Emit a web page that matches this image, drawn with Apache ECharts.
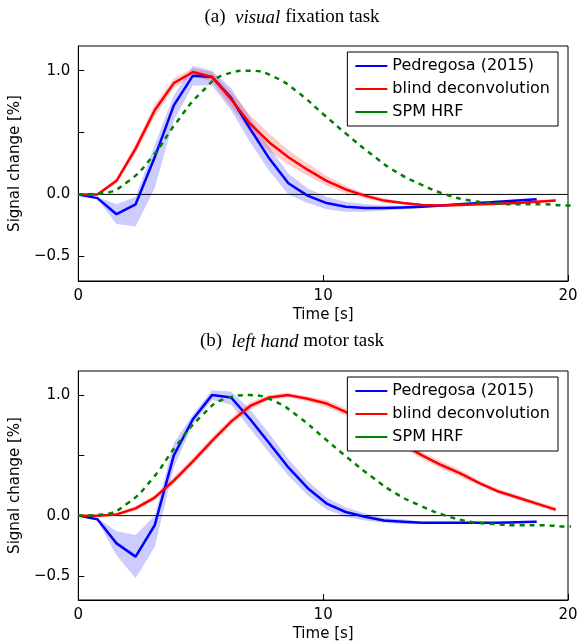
<!DOCTYPE html>
<html><head><meta charset="utf-8">
<script src="https://cdn.jsdelivr.net/npm/echarts@6/dist/echarts.min.js"></script>
<style>html,body{margin:0;padding:0;background:#fff}#main{width:584px;height:643px}</style>
</head><body><div id="main"></div>
<script>
// time grid of the estimated curves (s)
var step = 0.78;
var sptT = [0,1,2,3,4,5,6,7,8,9,10,11,12,13,14,15,16,17,18,19,20,21];
var spmHrf = [0,0.01,0.1,0.3,0.58,0.82,0.97,1.0,0.95,0.82,0.65,0.48,0.32,0.18,0.08,0.0,-0.05,-0.07,-0.08,-0.08,-0.09,-0.09];

// (a) visual
var blueA = [0,-0.03,-0.16,-0.08,0.3,0.72,0.96,0.95,0.78,0.53,0.29,0.09,-0.01,-0.07,-0.1,-0.11,-0.11,-0.105,-0.1,-0.09,-0.08,-0.07,-0.06,-0.05,-0.04];
var blueALo = [0,-0.04,-0.24,-0.26,0.05,0.6,0.88,0.88,0.68,0.42,0.19,0.0,-0.07,-0.12,-0.14,-0.14,-0.13,-0.12,-0.11,-0.1,-0.09,-0.08,-0.07,-0.06,-0.05];
var blueAHi = [0,-0.02,-0.08,-0.02,0.4,0.8,1.04,1.0,0.86,0.62,0.38,0.17,0.05,-0.02,-0.06,-0.08,-0.09,-0.09,-0.09,-0.08,-0.07,-0.06,-0.05,-0.04,-0.03];
var redA = [0,0.0,0.11,0.37,0.68,0.9,0.99,0.95,0.77,0.57,0.42,0.3,0.2,0.11,0.04,-0.01,-0.05,-0.07,-0.085,-0.09,-0.085,-0.08,-0.075,-0.07,-0.06,-0.05];
var redAHalf = [0,0.01,0.02,0.04,0.05,0.04,0.03,0.04,0.06,0.07,0.07,0.06,0.05,0.04,0.03,0.02,0.02,0.01,0.01,0.01,0.01,0.01,0.01,0.01,0.01,0.01];

// (b) left hand
var blueB = [0,-0.03,-0.23,-0.34,-0.08,0.5,0.8,1.0,0.98,0.8,0.6,0.4,0.23,0.1,0.03,-0.01,-0.04,-0.05,-0.06,-0.06,-0.06,-0.06,-0.06,-0.055,-0.05];
var blueBLo = [0,-0.04,-0.33,-0.52,-0.26,0.4,0.76,0.96,0.92,0.72,0.52,0.33,0.17,0.05,-0.01,-0.04,-0.06,-0.07,-0.07,-0.07,-0.07,-0.07,-0.07,-0.065,-0.06];
var blueBHi = [0,-0.02,-0.13,-0.16,0.0,0.6,0.84,1.04,1.03,0.88,0.68,0.47,0.29,0.15,0.07,0.02,-0.02,-0.03,-0.05,-0.05,-0.05,-0.05,-0.05,-0.045,-0.04];
var redB = [0,0,0.01,0.06,0.15,0.29,0.45,0.62,0.78,0.91,0.98,1.0,0.97,0.93,0.86,0.77,0.68,0.59,0.5,0.42,0.35,0.27,0.2,0.15,0.1,0.05];
var redBHalf = [0,0,0.01,0.02,0.02,0.03,0.03,0.03,0.03,0.03,0.02,0.02,0.02,0.03,0.03,0.03,0.03,0.03,0.03,0.03,0.03,0.02,0.02,0.02,0.02,0.02];

function pairs(v){ return v.map(function(y,i){ return [+(i*step).toFixed(2), y]; }); }
function bandSeries(idx, lo, hi, color){
  return {
    type:'custom', xAxisIndex:idx, yAxisIndex:idx, silent:true, z:1, clip:true,
    data: lo.map(function(l,i){ return [+(i*step).toFixed(2), l, hi[i]]; }),
    renderItem:function(params, api){
      if (params.dataIndex !== 0) return;
      var pts = [], i;
      for (i=0;i<lo.length;i++) pts.push(api.coord([i*step, hi[i]]));
      for (i=lo.length-1;i>=0;i--) pts.push(api.coord([i*step, lo[i]]));
      return {type:'polygon', shape:{points:pts}, style:{fill:color}};
    }
  };
}
function halfBand(v, h, sign){ return v.map(function(y,i){ return y + sign*h[i]; }); }

var tickFont = {fontFamily:'DejaVu Sans', fontSize:15, color:'#000'};
function xAx(idx){
  return {type:'value', gridIndex:idx, min:0, max:20, interval:10, name:'Time [s]', nameLocation:'middle', nameGap:27,
    nameTextStyle:{fontFamily:'DejaVu Sans', fontSize:15, color:'#000'},
    axisLine:{show:true, onZero:false, lineStyle:{color:'#000'}}, axisTick:{inside:true, length:6, lineStyle:{color:'#000'}},
    axisLabel:Object.assign({margin:8}, tickFont), splitLine:{show:false}};
}
function yAx(idx){
  return {type:'value', gridIndex:idx, min:-0.7, max:1.2, name:'Signal change [%]', nameLocation:'middle', nameGap:35,
    nameTextStyle:{fontFamily:'DejaVu Sans', fontSize:15, color:'#000'},
    axisLine:{show:true, lineStyle:{color:'#000'}},
    axisTick:{inside:true, length:6, customValues:[-0.5,0,0.5,1], lineStyle:{color:'#000'}},
    axisLabel:Object.assign({customValues:[-0.5,0,1], formatter:function(v){ return v<0 ? '\u2212'+(-v).toFixed(1) : v.toFixed(1); }}, tickFont),
    splitLine:{show:false}};
}
function lineS(idx, name, data, color, dashed, smooth){
  return {type:'line', name:name, xAxisIndex:idx, yAxisIndex:idx, data:data, symbol:'none', smooth:smooth||false, z:3,
    lineStyle:{color:color, width:2.5, type: dashed ? [5,5] : 'solid'}, itemStyle:{color:color}};
}
var zeroLine = function(idx){
  return {type:'line', xAxisIndex:idx, yAxisIndex:idx, data:[[0,0],[20,0]], symbol:'none', z:2, silent:true,
    lineStyle:{color:'#000', width:1}};
};
var legendBase = {orient:'vertical', right:26, itemWidth:32, itemHeight:12, itemGap:7, backgroundColor:'#fff',
  borderColor:'#000', borderWidth:1, padding:[6,8,6,8], z:10, textStyle:{fontFamily:'DejaVu Sans', fontSize:16, color:'#000'},
  data:['Pedregosa (2015)','blind deconvolution','SPM HRF'], icon:'path://M0,5L32,5L32,7L0,7Z'};
var titleStyle = {fontFamily:'Liberation Serif', fontSize:19, fontWeight:'normal', color:'#000',
  rich:{i:{fontFamily:'Liberation Serif', fontSize:19, fontStyle:'italic'}}};

var chart = echarts.init(document.getElementById('main'));
chart.setOption({
  animation:false,
  title:[
    {text:'(a)  {i|visual} fixation task', left:'center', top:3, textStyle:titleStyle},
    {text:'(b)  {i|left hand} motor task', left:'center', top:327, textStyle:titleStyle}
  ],
  grid:[{left:77, top:46, width:491, height:235, show:true, borderColor:'#000', borderWidth:1},
        {left:77, top:371, width:491, height:235, show:true, borderColor:'#000', borderWidth:1}],
  xAxis:[xAx(0), xAx(1)],
  yAxis:[yAx(0), yAx(1)],
  legend:[Object.assign({top:52}, legendBase), Object.assign({top:377}, legendBase)],
  series:[
    bandSeries(0, blueALo, blueAHi, 'rgba(0,0,255,0.2)'),
    bandSeries(0, halfBand(redA, redAHalf, -1), halfBand(redA, redAHalf, 1), 'rgba(255,0,0,0.2)'),
    zeroLine(0),
    lineS(0, 'Pedregosa (2015)', pairs(blueA), '#0000ff'),
    lineS(0, 'blind deconvolution', pairs(redA), '#ff0000'),
    lineS(0, 'SPM HRF', sptT.map(function(t,i){return [t, spmHrf[i]];}), '#008000', true, 0.5),
    bandSeries(1, blueBLo, blueBHi, 'rgba(0,0,255,0.2)'),
    bandSeries(1, halfBand(redB, redBHalf, -1), halfBand(redB, redBHalf, 1), 'rgba(255,0,0,0.2)'),
    zeroLine(1),
    lineS(1, 'Pedregosa (2015)', pairs(blueB), '#0000ff'),
    lineS(1, 'blind deconvolution', pairs(redB), '#ff0000'),
    lineS(1, 'SPM HRF', sptT.map(function(t,i){return [t, spmHrf[i]];}), '#008000', true, 0.5)
  ]
});
</script></body></html>
